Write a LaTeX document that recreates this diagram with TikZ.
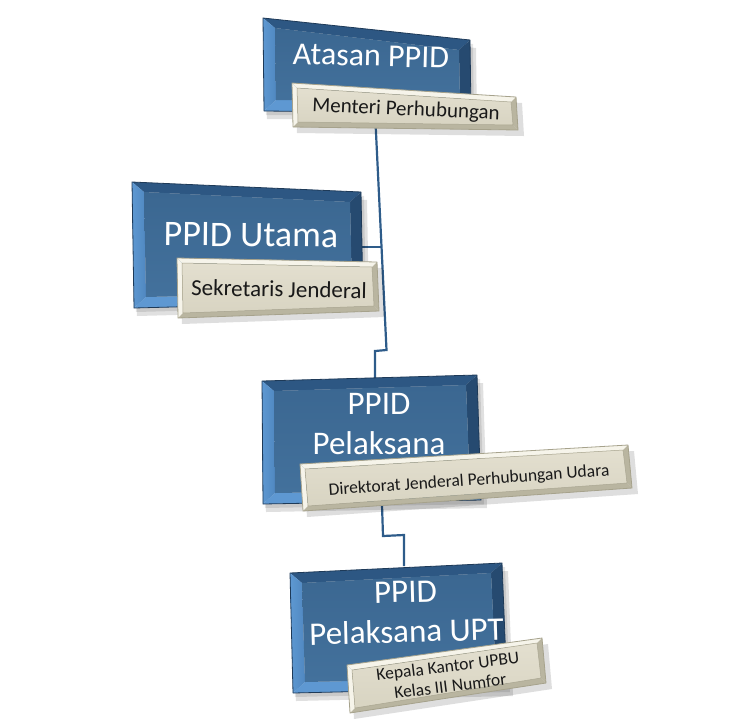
\documentclass[tikz,border=0pt]{standalone}
\usepackage{fontspec}
\setmainfont{Carlito}
\usetikzlibrary{calc}
\definecolor{bvface}{HTML}{43719C}
\definecolor{bvface2}{HTML}{3B6791}
\definecolor{bvtop}{HTML}{2D5783}
\definecolor{bvleft}{HTML}{5088C0}
\definecolor{bvright}{HTML}{264A70}
\definecolor{bvbot}{HTML}{5E98D2}
\definecolor{bvframe}{HTML}{1E3A58}
\definecolor{lbface}{HTML}{E3DFCF}
\definecolor{lbface2}{HTML}{D8D4C2}
\definecolor{lbedge}{HTML}{A6A28C}
\definecolor{lblight}{HTML}{F6F4EA}
\definecolor{lbdark}{HTML}{B9B5A0}
\definecolor{conn}{HTML}{2E5C8A}
\tikzset{
  connector/.style={draw=conn,line width=2.2pt,line join=miter},
  headtext/.style={text=white,inner sep=0pt,align=center,font=\fontsize{33}{40}\selectfont},
  labeltext/.style={text=black!90,inner sep=0pt,align=center,font=\fontsize{21}{24}\selectfont},
}
% bevelled box: name, TL, TR, BR, BL
\newcommand\bevbox[5]{%
  \coordinate (#1-tl) at #2; \coordinate (#1-tr) at #3;
  \coordinate (#1-br) at #4; \coordinate (#1-bl) at #5;
  \coordinate (#1-itl) at ($(#1-tl)+(12,10)$);
  \coordinate (#1-itr) at ($(#1-tr)+(-11,10)$);
  \coordinate (#1-ibr) at ($(#1-br)+(-11,-10)$);
  \coordinate (#1-ibl) at ($(#1-bl)+(12,-11)$);
  \fill[black,opacity=0.12] ($(#1-tl)+(3,8)$)--($(#1-tr)+(6,8)$)--($(#1-br)+(6,8)$)--($(#1-bl)+(3,8)$)--cycle;
  \fill[black,opacity=0.10] ($(#1-tl)+(2,4)$)--($(#1-tr)+(3,4)$)--($(#1-br)+(3,4)$)--($(#1-bl)+(2,4)$)--cycle;
  \fill[bvtop] (#1-tl)--(#1-tr)--(#1-itr)--(#1-itl)--cycle;
  \shade[left color=bvbot,right color=bvleft] (#1-tl)--(#1-itl)--(#1-ibl)--(#1-bl)--cycle;
  \fill[bvright] (#1-tr)--(#1-br)--(#1-ibr)--(#1-itr)--cycle;
  \fill[bvbot] (#1-bl)--(#1-ibl)--(#1-ibr)--(#1-br)--cycle;
  \shade[top color=bvface2,bottom color=bvface] (#1-itl)--(#1-itr)--(#1-ibr)--(#1-ibl)--cycle;
  \draw[bvframe,line width=0.8pt,line join=round] (#1-tl)--(#1-tr)--(#1-br)--(#1-bl)--cycle;
}
% label box: name, TL, TR, BR, BL
\newcommand\lblbox[5]{%
  \coordinate (#1-tl) at #2; \coordinate (#1-tr) at #3;
  \coordinate (#1-br) at #4; \coordinate (#1-bl) at #5;
  \coordinate (#1-itl) at ($(#1-tl)+(5,5)$);
  \coordinate (#1-itr) at ($(#1-tr)+(-5,5)$);
  \coordinate (#1-ibr) at ($(#1-br)+(-5,-5)$);
  \coordinate (#1-ibl) at ($(#1-bl)+(5,-5)$);
  \fill[black,opacity=0.13] ($(#1-tl)+(4,6)$)--($(#1-tr)+(6,6)$)--($(#1-br)+(6,6)$)--($(#1-bl)+(4,6)$)--cycle;
  \fill[lblight] (#1-tl)--(#1-tr)--(#1-itr)--(#1-itl)--cycle;
  \fill[lblight] (#1-tl)--(#1-itl)--(#1-ibl)--(#1-bl)--cycle;
  \fill[lbdark] (#1-tr)--(#1-br)--(#1-ibr)--(#1-itr)--cycle;
  \fill[lbdark] (#1-bl)--(#1-ibl)--(#1-ibr)--(#1-br)--cycle;
  \shade[top color=lbface,bottom color=lbface2] (#1-itl)--(#1-itr)--(#1-ibr)--(#1-ibl)--cycle;
  \draw[lbedge,line width=0.5pt] (#1-itl)--(#1-itr)--(#1-ibr)--(#1-ibl)--cycle;
  \draw[lbedge,line width=0.8pt,line join=round] (#1-tl)--(#1-tr)--(#1-br)--(#1-bl)--cycle;
}
\begin{document}
\begin{tikzpicture}[x=1pt,y=-1pt]
\useasboundingbox (0,0) rectangle (751,724);
% connector points
\coordinate (j1top) at (375,112);
\coordinate (j1bend) at (386.5,350);
\coordinate (j1step) at (375,351);
\coordinate (b3in) at (375,382);
\coordinate (stubA) at (381,247);
\coordinate (b2in) at (360,247);
\coordinate (j2top) at (382,505);
\coordinate (j2a) at (383,536);
\coordinate (j2b) at (404,535);
\coordinate (b4in) at (404,566);
\draw[connector] (j1top) -- (j1bend) -- (j1step) -- (b3in);
\draw[connector] (stubA) -- (b2in);
\draw[connector] (j2top) -- (j2a) -- (j2b) -- (b4in);
% boxes
\bevbox{b1}{(263,18)}{(470,40)}{(471,113)}{(264,111)}
\node[headtext,font=\fontsize{32}{38}\selectfont,rotate=-1.5] (t1) at (371,56) {Atasan PPID};
\lblbox{l1}{(292,83)}{(516,97)}{(518,130)}{(293,127)}
\node[labeltext,rotate=-2.5] (s1) at (406,110) {Menteri Perhubungan};

\bevbox{b2}{(132,182)}{(361,192)}{(363,302)}{(134,308)}
\node[headtext,font=\fontsize{36}{40}\selectfont,rotate=-0.5] (t2) at (251,235) {PPID Utama};
\lblbox{l2}{(177,258)}{(377,262)}{(379,311)}{(178,318)}
\node[labeltext,font=\fontsize{23}{26}\selectfont,rotate=-1] (s2) at (279,289) {Sekretaris Jenderal};

\bevbox{b3}{(262,381)}{(477,375)}{(481,500)}{(263,504)}
\node[headtext] (t3) at (379,424) {PPID\\Pelaksana};
\lblbox{l3}{(300,464)}{(628,445)}{(632,488)}{(303,511)}
\node[labeltext,font=\fontsize{17.5}{20}\selectfont,rotate=4] (s3) at (469,481) {Direktorat Jenderal Perhubungan Udara};

\bevbox{b4}{(290,573)}{(502,563)}{(507,688)}{(293,693)}
\node[headtext,rotate=1.5] (t4) at (406,612) {PPID\\Pelaksana UPT};
\lblbox{l4}{(347,665)}{(542,638)}{(546,683)}{(350,713)}
\node[labeltext,font=\fontsize{17.5}{20}\selectfont,rotate=7] (s4) at (449,676) {Kepala Kantor UPBU\\Kelas III Numfor};
\end{tikzpicture}
\end{document}
